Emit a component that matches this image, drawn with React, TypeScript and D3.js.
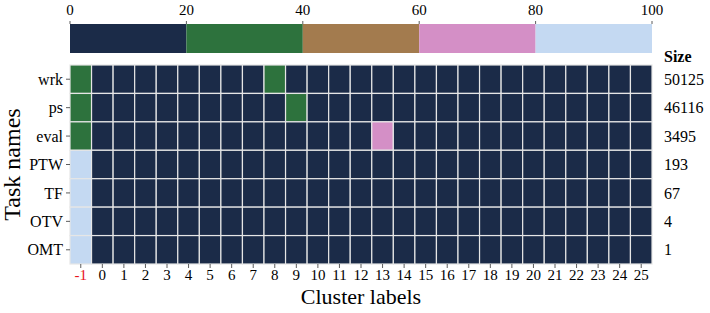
import React from "react";
import * as d3 from "d3";

// task rows, cluster columns, and the per-row sizes printed on the right
const tasks = ["wrk", "ps", "eval", "PTW", "TF", "OTV", "OMT"];
const clusters = [-1, 0, 1, 2, 3, 4, 5, 6, 7, 8, 9, 10, 11, 12, 13, 14, 15, 16, 17, 18, 19, 20, 21, 22, 23, 24, 25];
const sizes = [50125, 46116, 3495, 193, 67, 4, 1];

// cells that are not zero: [task, cluster, percent]
const cells: [string, number, number][] = [
  ["wrk", -1, 30],
  ["wrk", 8, 30],
  ["ps", -1, 30],
  ["ps", 9, 35],
  ["eval", -1, 30],
  ["eval", 13, 65],
  ["PTW", -1, 100],
  ["TF", -1, 100],
  ["OTV", -1, 100],
  ["OMT", -1, 100],
];

const palette = ["#1b2b48", "#2d723d", "#a37b4e", "#d48fc6", "#c4d9f2"];
const barTicks = [0, 20, 40, 60, 80, 100];

const W = 710;
const H = 313;
const left = 70;
const right = 652;
const barTop = 24;
const barBottom = 53;
const top = 65;
const bottom = 264;
const font = "'Liberation Serif', 'Times New Roman', 'DejaVu Serif', serif";

export default function App() {
  const x = d3.scaleBand<number>().domain(clusters).range([left, right]);
  const y = d3.scaleBand<string>().domain(tasks).range([top, bottom]);
  const cx = d3.scaleLinear().domain([0, 100]).range([left, right]);
  const color = d3.scaleQuantize<string>().domain([0, 100]).range(palette);

  const lookup = new Map(cells.map(([t, c, v]) => [`${t}|${c}`, v]));
  const grid = tasks.flatMap((t) => clusters.map((c) => ({ t, c, v: lookup.get(`${t}|${c}`) ?? 0 })));

  return (
    <svg width={W} height={H} style={{ position: "absolute", left: 0, top: 0, fontFamily: font }}>
      {/* colour bar */}
      {d3.range(palette.length).map((i) => (
        <rect key={i} x={cx(i * 20)} y={barTop} width={cx(20) - cx(0)} height={barBottom - barTop} fill={palette[i]} />
      ))}
      {barTicks.map((t) => (
        <g key={t} transform={`translate(${cx(t)},0)`}>
          <line y1={barTop - 3} y2={barTop} stroke="#333" strokeWidth={0.8} />
          <text y={barTop - 9} textAnchor="middle" fontSize={15}>{t}</text>
        </g>
      ))}

      {/* heatmap */}
      {grid.map((d) => (
        <rect
          key={`${d.t}${d.c}`}
          x={x(d.c)}
          y={y(d.t)}
          width={x.bandwidth()}
          height={y.bandwidth()}
          fill={color(d.v)}
          stroke="#e6e6e6"
          strokeWidth={1.2}
        />
      ))}

      {/* y axis */}
      {tasks.map((t) => (
        <g key={t} transform={`translate(${left},${y(t)! + y.bandwidth() / 2})`}>
          <line x1={-4} x2={0} stroke="#333" strokeWidth={0.8} />
          <text x={-7} dy="0.35em" textAnchor="end" fontSize={16}>{t}</text>
        </g>
      ))}
      <text transform={`translate(20,${(top + bottom) / 2}) rotate(-90)`} textAnchor="middle" fontSize={24}>
        Task names
      </text>

      {/* x axis */}
      {clusters.map((c) => (
        <g key={c} transform={`translate(${x(c)! + x.bandwidth() / 2},${bottom})`}>
          <line y2={4} stroke="#333" strokeWidth={0.8} />
          <text y={16} textAnchor="middle" fontSize={15} fill={c === -1 ? "#e8141c" : "#000"}>{c}</text>
        </g>
      ))}
      <text x={(left + right) / 2} y={304} textAnchor="middle" fontSize={22}>Cluster labels</text>

      {/* sizes */}
      <text x={664} y={62} fontSize={16} fontWeight="bold">Size</text>
      {tasks.map((t, i) => (
        <text key={t} x={664} y={y(t)! + y.bandwidth() / 2} dy="0.35em" fontSize={16}>{sizes[i]}</text>
      ))}
    </svg>
  );
}
